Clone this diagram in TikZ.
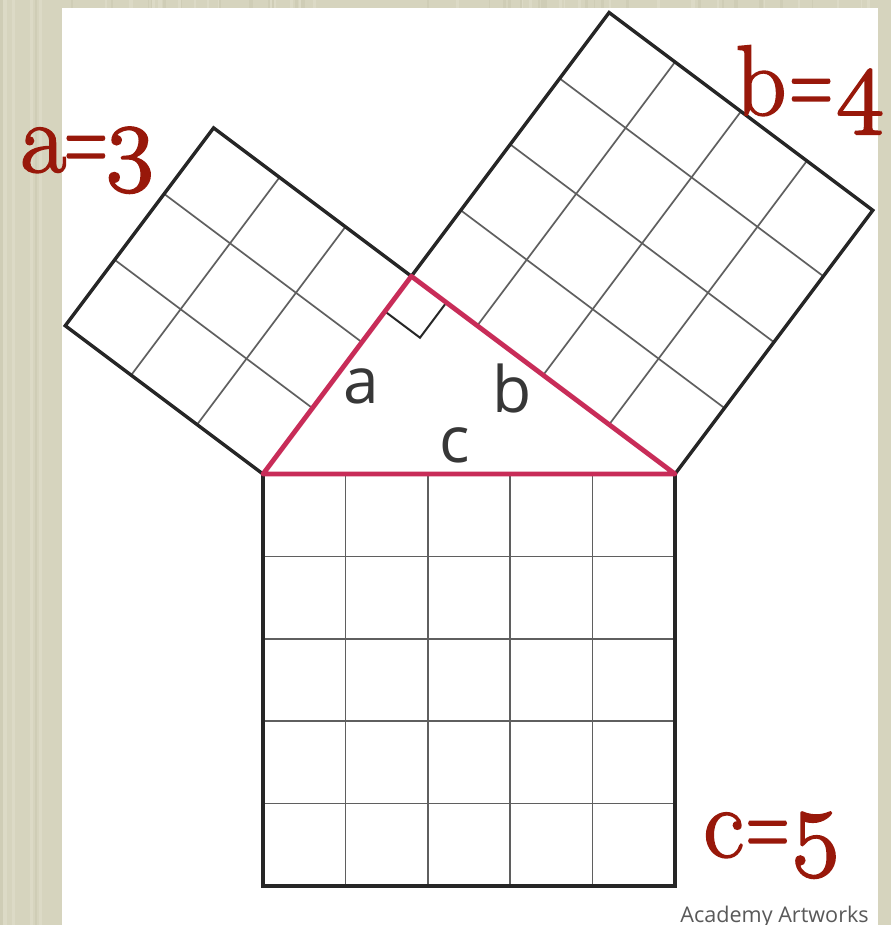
\documentclass[tikz,border=0pt]{standalone}
\usepackage{graphicx}
\usepackage{fontspec}
\newfontfamily\opensans{Open Sans}
\usetikzlibrary{calc}
\definecolor{paper}{RGB}{214,212,190}
\definecolor{paperlight}{RGB}{220,218,198}
\definecolor{paperdark}{RGB}{207,205,182}
\definecolor{tricol}{RGB}{200,44,88}
\definecolor{lblred}{RGB}{152,24,10}
\definecolor{gridcol}{RGB}{95,95,95}
\definecolor{sidecol}{RGB}{55,55,55}
\newcommand{\oldfig}[1]{\scalebox{2}{\fontsize{25}{30}\usefont{OML}{cmm}{m}{it}\special{pdf:literal direct 0.45 w}#1}}
\newcommand{\redlabel}[3]{\special{pdf:literal direct 2 Tr 0.9 w}#1\kern#3\scalebox{0.6}[1]{=}\kern#3\oldfig{#2}\special{pdf:literal direct 0 Tr}}
\tikzset{
  gridline/.style={draw=gridcol, line width=0.85pt},
  outline/.style={draw=black!85, line width=1.7pt, line join=miter},
  triside/.style={draw=tricol, line width=2.4pt, line join=round},
  rightmark/.style={draw=black!85, line width=1pt},
  sidelbl/.style={inner sep=0pt, text=sidecol, font=\opensans\fontsize{32}{38}\selectfont},
  biglbl/.style={inner sep=0pt, text=lblred, font=\fontsize{50}{60}\selectfont},
}
\begin{document}
\begin{tikzpicture}[x=0.5pt,y=-0.5pt]
\useasboundingbox (0,0) rectangle (891,925);
\fill[paper] (0,0) rectangle (891,925);
% paper fibres
\pgfmathsetseed{11}
\foreach \i in {1,...,70} {
  \pgfmathsetmacro{\xx}{rnd*891}
  \pgfmathsetmacro{\ww}{0.6+rnd*1.4}
  \pgfmathtruncatemacro{\cc}{mod(\i,2)}
  \ifnum\cc=0
    \draw[paperlight, line width=\ww pt] (\xx,0) -- (\xx,925);
  \else
    \draw[paperdark, line width=\ww pt] (\xx,0) -- (\xx,925);
  \fi
}
\fill[white] (62,8) rectangle (878,925);

\coordinate (A) at (263,474);
\coordinate (B) at (675,474);
\coordinate (C) at (411.32,276.24);
\coordinate (P1) at (65.24,325.68);
\coordinate (P2) at (213.56,127.92);
\coordinate (Q1) at (609.08,12.56);
\coordinate (Q2) at (872.76,210.32);
\coordinate (D) at (675,886);
\coordinate (E) at (263,886);

% grids
\foreach \k in {1,2} {
  \draw[gridline] ($(A)!{\k/3}!(P1)$) -- ($(C)!{\k/3}!(P2)$);
  \draw[gridline] ($(A)!{\k/3}!(C)$) -- ($(P1)!{\k/3}!(P2)$);
}
\foreach \k in {1,2,3} {
  \draw[gridline] ($(C)!{\k/4}!(Q1)$) -- ($(B)!{\k/4}!(Q2)$);
  \draw[gridline] ($(C)!{\k/4}!(B)$) -- ($(Q1)!{\k/4}!(Q2)$);
}
\foreach \k in {1,2,3,4} {
  \draw[gridline] ($(A)!{\k/5}!(E)$) -- ($(B)!{\k/5}!(D)$);
  \draw[gridline] ($(A)!{\k/5}!(B)$) -- ($(E)!{\k/5}!(D)$);
}

% outlines
\draw[outline] (A) -- (P1) -- (P2) -- (C);
\draw[outline] (C) -- (Q1) -- (Q2) -- (B);
\draw[outline] (A) -- (E) -- (D) -- (B);

% right angle mark
\coordinate (M1) at ($(C)!0.178!(A)$);
\coordinate (M2) at ($(C)!0.133!(B)$);
\coordinate (M3) at ($(M1)+(M2)-(C)$);
\draw[rightmark] (M1) -- (M3) -- (M2);

% triangle
\draw[triside] (A) -- (B) -- (C) -- cycle;

% side labels
\node[sidelbl, anchor=base] (la) at (361,403) {a};
\node[sidelbl, anchor=base] (lb) at (512,412) {b};
\node[sidelbl, anchor=base] (lc) at (455,462) {c};

% red labels
\node[biglbl, anchor=base west] (ta) at (20,172) {\redlabel{a}{3}{-0.02em}};
\node[biglbl, anchor=base west] (tb) at (735,115) {\redlabel{b}{4}{0.03em}};
\node[biglbl, anchor=base west] (tc) at (703,857) {\redlabel{c}{5}{0.02em}};

% credit
\node[inner sep=0pt, anchor=base west, text=black!65, font=\opensans\fontsize{10.8}{12}\selectfont] (credit) at (680,922) {Academy Artworks};
\end{tikzpicture}
\end{document}
